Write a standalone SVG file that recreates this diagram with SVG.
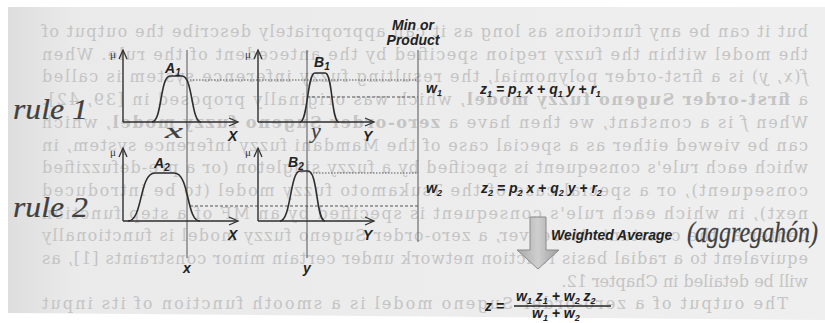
<svg xmlns="http://www.w3.org/2000/svg" width="825" height="323" viewBox="0 0 825 323">
<defs>
  <linearGradient id="page" x1="0" y1="0" x2="1" y2="0">
    <stop offset="0" stop-color="#dedede"/>
    <stop offset="0.08" stop-color="#eaeaea"/>
    <stop offset="1" stop-color="#efefef"/>
  </linearGradient>
  <linearGradient id="arrowFill" x1="0" y1="0" x2="1" y2="0">
    <stop offset="0" stop-color="#a8a8a8"/>
    <stop offset="0.5" stop-color="#cfcfcf"/>
    <stop offset="1" stop-color="#9c9c9c"/>
  </linearGradient>
  <marker id="ah" markerWidth="12" markerHeight="10" refX="10" refY="5" orient="auto" markerUnits="userSpaceOnUse">
    <path d="M1,1 L10,5 L1,9" fill="none" stroke="#333" stroke-width="1.3"/>
  </marker>
</defs>
<style>
  .bg { font-family: "DejaVu Serif", "Liberation Serif", serif; font-size: 16px; fill: #c4c4c4; }
  .ax { stroke: #2e2e2e; stroke-width: 1.4; fill: none; }
  .mf { stroke: #2e2e2e; stroke-width: 1.6; fill: none; }
  .vl { stroke: #555; stroke-width: 1; fill: none; }
  .dot { stroke: #555; stroke-width: 1; stroke-dasharray: 1.5 1.5; fill: none; }
  .dash { stroke: #555; stroke-width: 1; stroke-dasharray: 3 2; fill: none; }
  .lbl { font-family: "Liberation Sans", Arial, sans-serif; font-weight: bold; font-style: italic; font-size: 14px; fill: #222; }
  .mu { font-family: "Liberation Serif", serif; font-size: 11px; fill: #333; }
  .hand { font-family: "Liberation Serif", serif; font-style: italic; fill: #404040; stroke: #404040; stroke-width: 0.2; }
</style>

<rect x="0" y="0" width="825" height="323" fill="#ffffff"/>
<polygon points="8,7 825,7 825,320 8,313" fill="url(#page)"/>

<g id="page-text" transform="matrix(-1 0 0 1 850 0)">
  <text class="bg" x="42" y="37" textLength="766" lengthAdjust="spacing">but it can be any functions as long as it can appropriately describe the output of</text>
  <text class="bg" x="42" y="59.7" textLength="766" lengthAdjust="spacing">the model within the fuzzy region specified by the antecedent of the rule. When</text>
  <text class="bg" x="42" y="82.4" textLength="766" lengthAdjust="spacing"><tspan font-style="italic">f</tspan>(<tspan font-style="italic">x</tspan>, <tspan font-style="italic">y</tspan>) is a first-order polynomial, the resulting fuzzy inference system is called</text>
  <text class="bg" x="42" y="105.1" textLength="766" lengthAdjust="spacing">a <tspan font-weight="bold">first-order Sugeno fuzzy model</tspan>, which was originally proposed in [39, 42].</text>
  <text class="bg" x="42" y="127.8" textLength="766" lengthAdjust="spacing">When <tspan font-style="italic">f</tspan> is a constant, we then have a <tspan font-weight="bold">zero-order Sugeno fuzzy model</tspan>, which</text>
  <text class="bg" x="42" y="150.5" textLength="766" lengthAdjust="spacing">can be viewed either as a special case of the Mamdani fuzzy inference system, in</text>
  <text class="bg" x="42" y="173.2" textLength="766" lengthAdjust="spacing">which each rule's consequent is specified by a fuzzy singleton (or a pre-defuzzified</text>
  <text class="bg" x="42" y="195.9" textLength="766" lengthAdjust="spacing">consequent), or a special case of the Tsukamoto fuzzy model (to be introduced</text>
  <text class="bg" x="42" y="218.6" textLength="766" lengthAdjust="spacing">next), in which each rule's consequent is specified by an MF of a step function</text>
  <text class="bg" x="42" y="241.3" textLength="766" lengthAdjust="spacing">center at the constant. Moreover, a zero-order Sugeno fuzzy model is functionally</text>
  <text class="bg" x="42" y="264" textLength="766" lengthAdjust="spacing">equivalent to a radial basis function network under certain minor constraints [1], as</text>
  <text class="bg" x="42" y="286.7">will be detailed in Chapter 12.</text>
  <text class="bg" x="62" y="309" textLength="746" lengthAdjust="spacing">The output of a zero-order Sugeno model is a smooth function of its input</text>
</g>

<g id="connectors">
  <line class="vl" x1="187" y1="50" x2="187" y2="258"/>
  <line class="vl" x1="307" y1="50" x2="307" y2="258"/>
  <line class="vl" x1="418" y1="50" x2="418" y2="242"/>
  <line class="dot" x1="190" y1="80" x2="418" y2="80"/>
  <line class="dash" x1="307" y1="97" x2="418" y2="97"/>
  <line class="dot" x1="310" y1="173" x2="418" y2="173"/>
  <line class="dash" x1="190" y1="206" x2="418" y2="206"/>
</g>

<g id="rule1-A1">
  <line class="ax" x1="123" y1="122" x2="123" y2="50" marker-end="url(#ah)"/>
  <line class="ax" x1="123" y1="122" x2="238" y2="122" marker-end="url(#ah)"/>
  <text class="mu" x="110" y="58">μ</text>
  <path class="mf" d="M152,122 C162,122 160,76 170,76 L182,76 C193,76 191,122 201,122"/>
  <text class="lbl" x="165" y="73">A<tspan font-size="10" dy="3">1</tspan></text>
  <text class="lbl" x="228" y="141">X</text>
</g>

<g id="rule1-B1">
  <line class="ax" x1="258" y1="122" x2="258" y2="50" marker-end="url(#ah)"/>
  <line class="ax" x1="258" y1="122" x2="374" y2="122" marker-end="url(#ah)"/>
  <text class="mu" x="245" y="58">μ</text>
  <path class="mf" d="M300,122 C308,122 307,73 315,73 L325,73 C333,73 331,122 339,122"/>
  <text class="lbl" x="314" y="67">B<tspan font-size="10" dy="3">1</tspan></text>
  <text class="lbl" x="363" y="141">Y</text>
</g>

<g id="rule2-A2">
  <line class="ax" x1="123" y1="221" x2="123" y2="148" marker-end="url(#ah)"/>
  <line class="ax" x1="123" y1="221" x2="238" y2="221" marker-end="url(#ah)"/>
  <text class="mu" x="110" y="156">μ</text>
  <path class="mf" d="M128,221 C143,221 139,173 155,173 L174,173 C190,173 186,221 200,221"/>
  <text class="lbl" x="154" y="168">A<tspan font-size="10" dy="3">2</tspan></text>
  <text class="lbl" x="228" y="240">X</text>
</g>

<g id="rule2-B2">
  <line class="ax" x1="258" y1="221" x2="258" y2="148" marker-end="url(#ah)"/>
  <line class="ax" x1="258" y1="221" x2="374" y2="221" marker-end="url(#ah)"/>
  <text class="mu" x="245" y="156">μ</text>
  <path class="mf" d="M280,221 C291,221 290,171 300,171 L308,171 C318,171 316,221 325,221"/>
  <text class="lbl" x="288" y="167">B<tspan font-size="10" dy="3">2</tspan></text>
  <text class="lbl" x="363" y="240">Y</text>
</g>

<g id="inputs">
  <text class="lbl" x="183" y="273">x</text>
  <text class="lbl" x="303" y="273">y</text>
  <text class="hand" x="165" y="138" font-size="20" textLength="18" lengthAdjust="spacingAndGlyphs">x</text>
  <text class="hand" x="311" y="138" font-size="22">y</text>
</g>

<g id="min-product">
  <text class="lbl" x="413" y="30" text-anchor="middle" font-size="12">Min or</text>
  <text class="lbl" x="413" y="45" text-anchor="middle" font-size="12">Product</text>
</g>

<g id="weights">
  <text class="lbl" x="426" y="93" font-size="13">w<tspan font-size="9" dy="3">1</tspan></text>
  <text class="lbl" x="426" y="193" font-size="13">w<tspan font-size="9" dy="3">2</tspan></text>
</g>

<g id="consequents">
  <text class="lbl" x="480" y="94" font-size="13">z<tspan font-size="9" dy="3">1</tspan><tspan dy="-3"> = p</tspan><tspan font-size="9" dy="3">1</tspan><tspan dy="-3"> x + q</tspan><tspan font-size="9" dy="3">1</tspan><tspan dy="-3"> y + r</tspan><tspan font-size="9" dy="3">1</tspan></text>
  <text class="lbl" x="481" y="193" font-size="13">z<tspan font-size="9" dy="3">2</tspan><tspan dy="-3"> = p</tspan><tspan font-size="9" dy="3">2</tspan><tspan dy="-3"> x + q</tspan><tspan font-size="9" dy="3">2</tspan><tspan dy="-3"> y + r</tspan><tspan font-size="9" dy="3">2</tspan></text>
</g>

<g id="rule-labels">
  <text class="hand" x="13" y="119" font-size="30" textLength="75" lengthAdjust="spacingAndGlyphs">rule 1</text>
  <text class="hand" x="13" y="217" font-size="30" textLength="75" lengthAdjust="spacingAndGlyphs">rule 2</text>
</g>

<g id="aggregation">
  <polygon points="530,217 546,217 546,250 559,250 538,269 517,250 530,250" fill="url(#arrowFill)" stroke="#8a8a8a" stroke-width="1"/>
  <text class="lbl" x="551" y="240" font-size="14">Weighted Average</text>
  <text class="hand" transform="translate(687,242) scale(1,1.25)" x="0" y="0" font-size="24">(aggregahón)</text>
</g>

<g id="output">
  <text class="lbl" x="485" y="311" font-size="13">z =</text>
  <text class="lbl" x="516" y="301" font-size="13">w<tspan font-size="9" dy="3">1</tspan><tspan dy="-3"> z</tspan><tspan font-size="9" dy="3">1</tspan><tspan dy="-3"> + w</tspan><tspan font-size="9" dy="3">2</tspan><tspan dy="-3"> z</tspan><tspan font-size="9" dy="3">2</tspan></text>
  <line x1="514" y1="306" x2="611" y2="306" stroke="#222" stroke-width="1.3"/>
  <text class="lbl" x="532" y="318" font-size="13">w<tspan font-size="9" dy="3">1</tspan><tspan dy="-3"> + w</tspan><tspan font-size="9" dy="3">2</tspan></text>
</g>
</svg>
